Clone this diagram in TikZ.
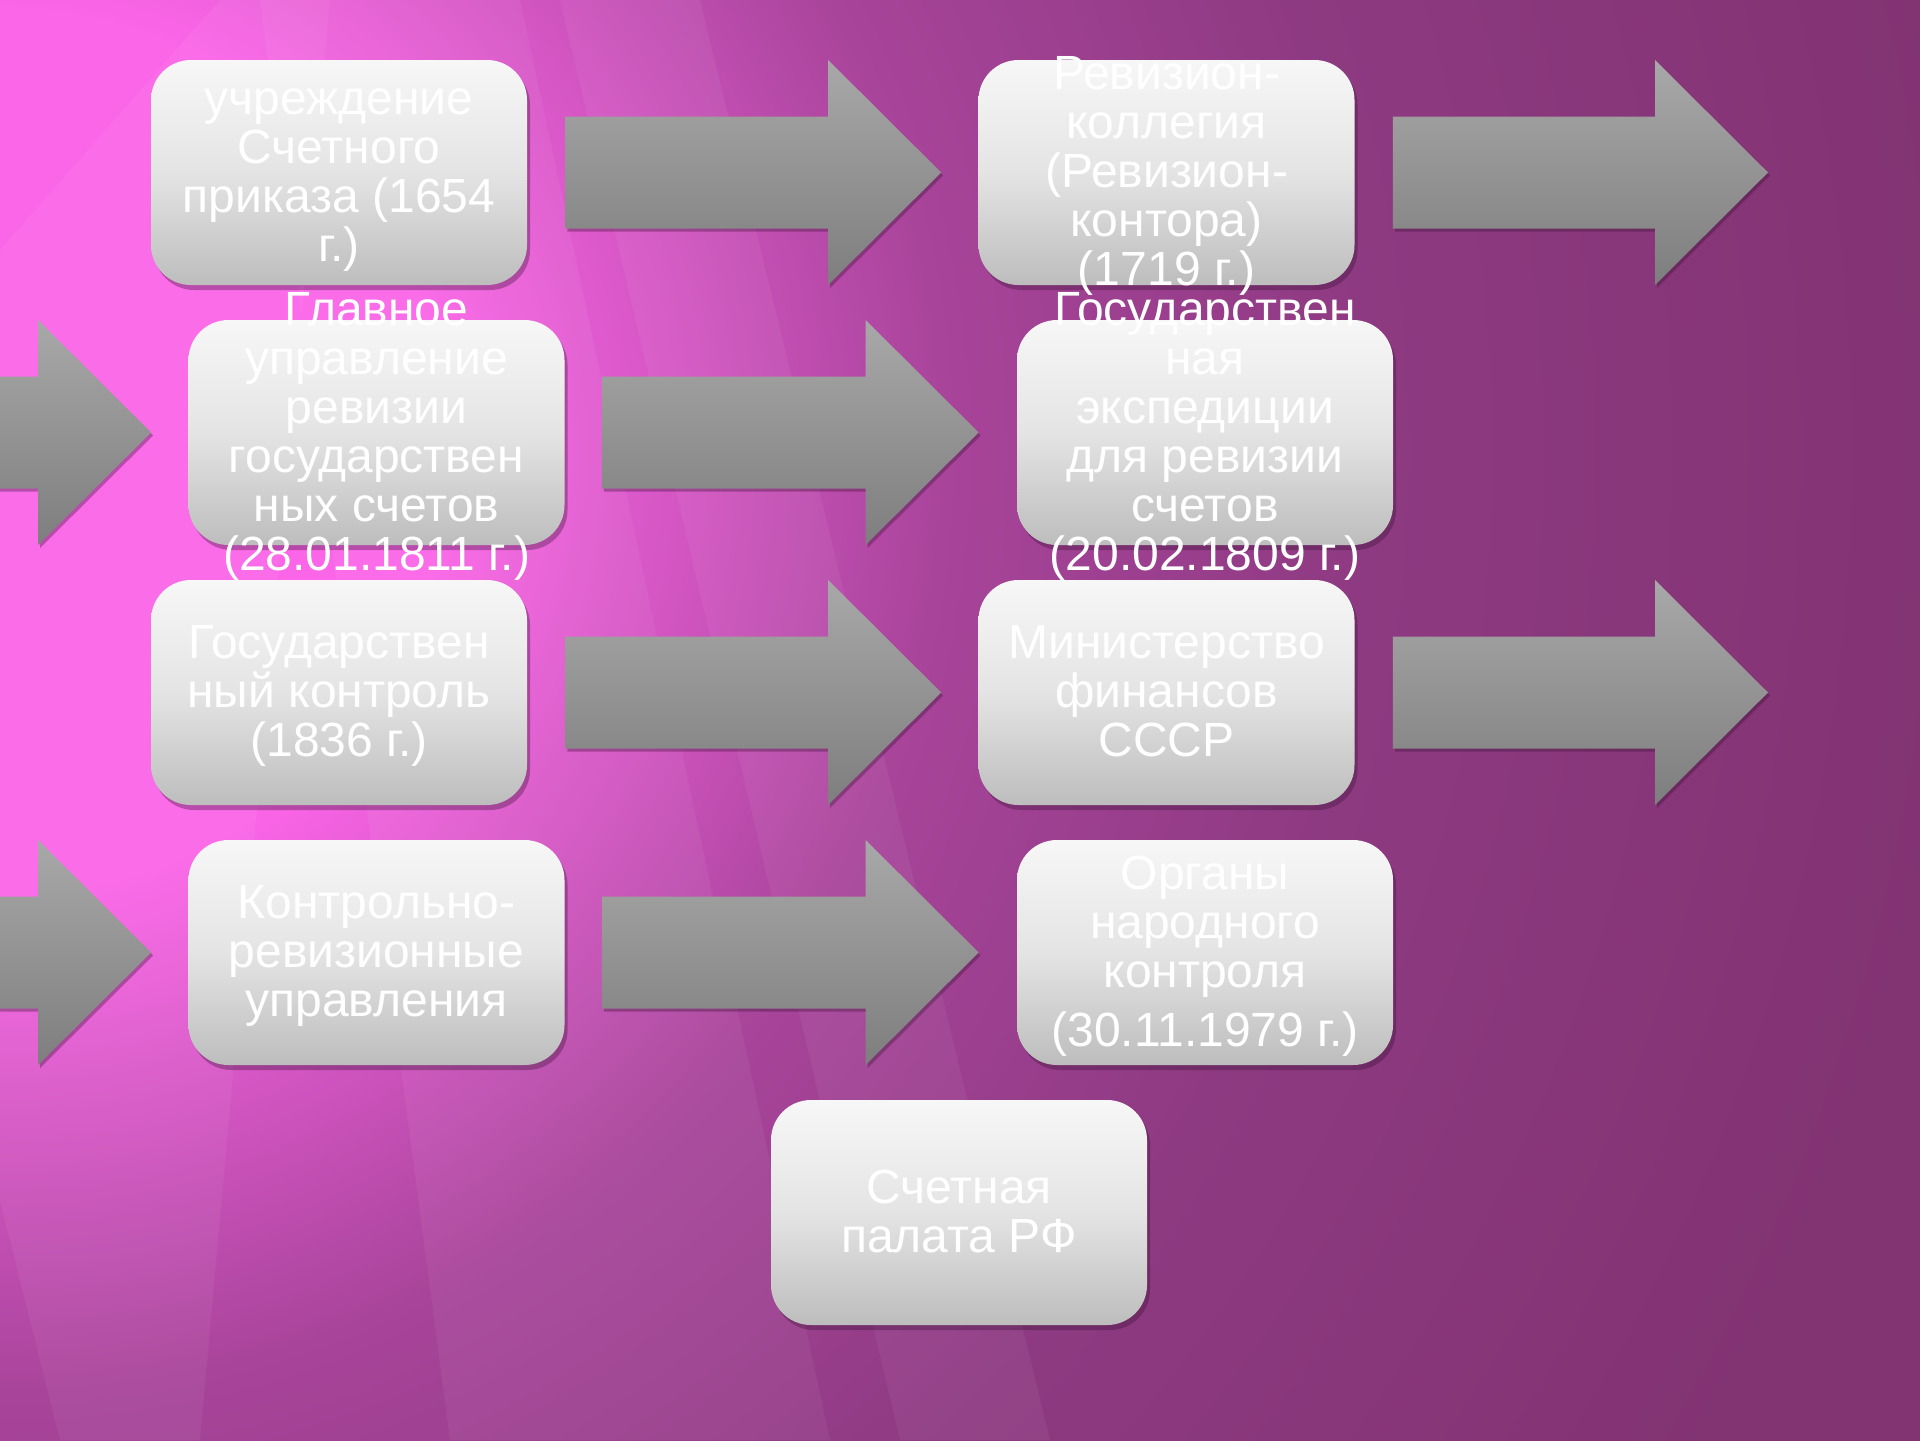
\documentclass[tikz,border=0pt]{standalone}
\usepackage{fontspec}
\setmainfont{Liberation Sans}
\usetikzlibrary{calc,shadows}
\definecolor{bgA}{HTML}{FB65E8}
\definecolor{bgB}{HTML}{A8449A}
\definecolor{bgC}{HTML}{8E3A82}
\definecolor{bgD}{HTML}{823372}
\definecolor{boxTop}{HTML}{F7F7F7}
\definecolor{boxMid}{HTML}{E4E4E4}
\definecolor{boxBot}{HTML}{BDBDBD}
\definecolor{arrTop}{HTML}{A8A8A8}
\definecolor{arrBot}{HTML}{7E7E7E}
\definecolor{shadowc}{HTML}{3A1235}
% 25bp corresponds to 2200px on the canvas
\pgfdeclareradialshading{bgshade}{\pgfpointorigin}{color(0bp)=(bgA); color(5bp)=(bgA); color(10.75bp)=(bgB); color(15.5bp)=(bgC); color(22.5bp)=(bgD); color(50bp)=(bgD)}
\newcommand{\blockarrow}[2]{%
  \path[arr] let \p1=(#1), \p2=(#2) in
    (\x1,\y1+28pt) -- (\x2-56.5pt,\y1+28pt) -- (\x2-56.5pt,\y1+56.25pt) -- (\x2,\y1)
    -- (\x2-56.5pt,\y1-56.25pt) -- (\x2-56.5pt,\y1-28pt) -- (\x1,\y1-28pt) -- cycle;}
% strut symmetric about the x-height middle, fits within the line pitch
\newcommand{\lnstrut}{\rule[-6pt]{0pt}{24.4pt}}
\begin{document}
\begin{tikzpicture}[x=0.5pt,y=-0.5pt,
  box/.style={draw=none, rounded corners=20pt, minimum width=188pt, minimum height=112.5pt,
    inner sep=0pt, top color=boxTop, bottom color=boxBot, middle color=boxMid,
    drop shadow={shadow xshift=1.5pt, shadow yshift=-2.5pt, opacity=0.35, fill=shadowc}},
  arr/.style={top color=arrTop, bottom color=arrBot,
    drop shadow={shadow xshift=1pt, shadow yshift=-1.5pt, opacity=0.35, fill=shadowc}},
  txt/.style={text=white, align=center, inner sep=0pt, yshift=-1.5pt,
    font=\fontsize{24}{24.5}\selectfont},
  band/.style={fill=white, opacity=0.05}]
% background
\useasboundingbox (0,0) rectangle (1920,1440);
\begin{scope}
\clip (0,0) rectangle (1920,1440);
\shade[shading=bgshade] (-2200,-1750) rectangle (2200,2650);
\fill[band] (260,0) -- (520,0) -- (830,1440) -- (450,1440) -- cycle;
\fill[band] (0,250) -- (220,0) -- (330,0) -- (200,1440) -- (60,1440) -- (0,1200) -- cycle;
\fill[band] (560,0) -- (700,0) -- (1050,1440) -- (900,1440) -- cycle;
\end{scope}
% boxes
\node[box] (b1) at (339,172.5) {};
\node[box] (b2) at (1166.5,172.5) {};
\node[box] (b3) at (376.5,432.5) {};
\node[box] (b4) at (1205,432.5) {};
\node[box] (b5) at (339,692.5) {};
\node[box] (b6) at (1166.5,692.5) {};
\node[box] (b7) at (376.5,952.5) {};
\node[box] (b8) at (1205,952.5) {};
\node[box] (b9) at (959,1212.5) {};
% arrow end points
\coordinate (a1s) at ($(b1.east)+(38,0)$);  \coordinate (a1e) at ($(b2.west)+(-37,0)$);
\coordinate (a2s) at ($(b2.east)+(38,0)$);  \coordinate (a2e) at (1768,172.5);
\coordinate (a3s) at (-225,432.5);          \coordinate (a3e) at ($(b3.west)+(-37,0)$);
\coordinate (a4s) at ($(b3.east)+(37,0)$);  \coordinate (a4e) at ($(b4.west)+(-38,0)$);
\coordinate (a5s) at ($(b5.east)+(38,0)$);  \coordinate (a5e) at ($(b6.west)+(-37,0)$);
\coordinate (a6s) at ($(b6.east)+(38,0)$);  \coordinate (a6e) at (1768,692.5);
\coordinate (a7s) at (-225,952.5);          \coordinate (a7e) at ($(b7.west)+(-37,0)$);
\coordinate (a8s) at ($(b7.east)+(37,0)$);  \coordinate (a8e) at ($(b8.west)+(-38,0)$);
\blockarrow{a1s}{a1e}
\blockarrow{a2s}{a2e}
\blockarrow{a3s}{a3e}
\blockarrow{a4s}{a4e}
\blockarrow{a5s}{a5e}
\blockarrow{a6s}{a6e}
\blockarrow{a7s}{a7e}
\blockarrow{a8s}{a8e}
% texts
\node[txt] (t1) at (b1.center) {\lnstrut учреждение\\Счетного\\приказа (1654\\г.)\lnstrut};
\node[txt] (t2) at (b2.center) {\lnstrut Ревизион-\\коллегия\\(Ревизион-\\контора)\\(1719 г.)\lnstrut};
\node[txt] (t3) at (b3.center) {\lnstrut Главное\\управление\\ревизии\\государствен\\ных счетов\\(28.01.1811 г.)\lnstrut};
\node[txt] (t4) at (b4.center) {\lnstrut Государствен\\ная\\экспедиции\\для ревизии\\счетов\\(20.02.1809 г.)\lnstrut};
\node[txt] (t5) at (b5.center) {\lnstrut Государствен\\ный контроль\\(1836 г.)\lnstrut};
\node[txt] (t6) at (b6.center) {\lnstrut Министерство\\финансов\\СССР\lnstrut};
\node[txt] (t7) at (b7.center) {\lnstrut Контрольно-\\ревизионные\\управления\lnstrut};
\node[txt] (t8) at (b8.center) {\lnstrut Органы\\народного\\контроля\\[5pt](30.11.1979 г.)\lnstrut};
\node[txt] (t9) at (b9.center) {\lnstrut Счетная\\палата РФ\lnstrut};
\end{tikzpicture}
\end{document}
